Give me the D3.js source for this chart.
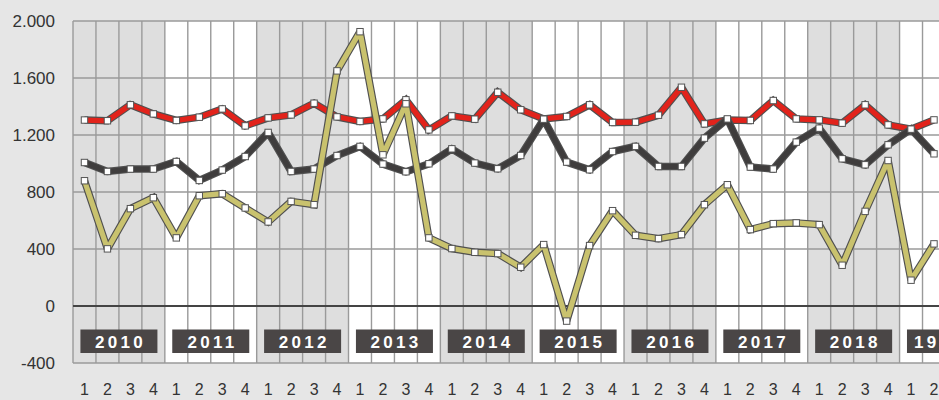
<!DOCTYPE html>
<html><head><meta charset="utf-8">
<script src="https://cdn.jsdelivr.net/npm/d3@7/dist/d3.min.js"></script>
<style>body{margin:0;background:#e6e6e6;}svg{display:block;}</style>
</head><body>
<svg id="c" width="939" height="400"></svg>
<script>
const years = ["2010","2011","2012","2013","2014","2015","2016","2017","2018","19"];
const quarters = ["1","2","3","4","1","2","3","4","1","2","3","4","1","2","3","4","1","2","3","4","1","2","3","4","1","2","3","4","1","2","3","4","1","2","3","4","1","2"];
const yTicks = [-400, 0, 400, 800, 1200, 1600, 2000];
const redSeries = [1305,1300,1412,1348,1302,1325,1383,1264,1320,1341,1423,1327,1295,1313,1447,1236,1334,1311,1500,1377,1313,1330,1412,1288,1290,1339,1535,1278,1305,1302,1442,1313,1306,1283,1412,1271,1241,1306];
const darkSeries = [1007,944,961,961,1014,881,954,1049,1218,944,961,1056,1120,996,942,998,1103,1003,963,1056,1311,1010,956,1084,1120,979,979,1178,1313,975,961,1150,1248,1033,991,1131,1241,1068];
const yellowSeries = [879,401,683,760,478,774,788,688,590,734,711,1650,1925,1061,1419,478,403,377,368,272,431,-106,424,669,496,473,501,711,851,536,578,583,571,286,664,1021,181,436];

const svg = d3.select("#c");
const W = 939, H = 400;
const colW = 22.96;
const x = d3.scaleLinear().domain([0, 38]).range([73, 73 + 38 * colW]);
const y = d3.scaleLinear().domain([-400, 2000]).range([363, 21]);

svg.append("rect").attr("width", W).attr("height", H).attr("fill", "#e6e6e6");

// year background bands
years.forEach((yr, i) => {
  svg.append("rect")
    .attr("x", x(i * 4)).attr("y", y(2000))
    .attr("width", x(4) - x(0)).attr("height", y(-400) - y(2000))
    .attr("fill", i % 2 === 0 ? "#dedede" : "#ffffff");
});

// vertical grid
const vg = svg.append("g").attr("stroke", "#9a9a9a").attr("stroke-width", 1.4);
d3.range(0, 39).forEach(i => {
  vg.append("line").attr("x1", x(i)).attr("x2", x(i)).attr("y1", y(2000)).attr("y2", y(-400));
});
// horizontal grid
yTicks.forEach(t => {
  svg.append("line").attr("x1", x(0)).attr("x2", W)
    .attr("y1", y(t)).attr("y2", y(t))
    .attr("stroke", t === 0 ? "#444" : "#9a9a9a")
    .attr("stroke-width", t === 0 ? 2 : 1.4);
});

// y labels
yTicks.forEach(t => {
  svg.append("text").attr("x", 55).attr("y", y(t)).attr("dy", "0.36em")
    .attr("text-anchor", "end")
    .attr("font-family", "Liberation Sans, Arial, sans-serif")
    .attr("font-size", 17).attr("fill", "#333")
    .text(d3.format(",")(t).replace(/,/g, ".").replace("\u2212", "-"));
});

// x labels (quarters)
quarters.forEach((q, i) => {
  svg.append("text").attr("x", x(i + 0.5)).attr("y", 395)
    .attr("text-anchor", "middle")
    .attr("font-family", "Liberation Sans, Arial, sans-serif")
    .attr("font-size", 16).attr("fill", "#333")
    .text(q);
});

// year boxes
years.forEach((yr, i) => {
  const cx = x(i * 4 + 2);
  const bw = 77;
  svg.append("rect").attr("x", cx - bw / 2).attr("y", 329.5)
    .attr("width", bw).attr("height", 23.5).attr("fill", "#4a4646");
  const t = svg.append("text")
    .attr("y", 348)
    .attr("font-family", "Liberation Sans, Arial, sans-serif")
    .attr("font-weight", "bold").attr("font-size", 17)
    .attr("letter-spacing", 3.3).attr("fill", "#fff")
    .text(yr);
  if (yr.length === 4) t.attr("x", cx + 1.7).attr("text-anchor", "middle");
  else t.attr("x", cx - bw / 2 + 7).attr("text-anchor", "start");
});

// series
const line = d3.line().x((d, i) => x(i + 0.5)).y(d => y(d));
function drawSeries(data, color) {
  const g = svg.append("g");
  g.append("path").attr("d", line(data)).attr("fill", "none")
    .attr("stroke", "#505050").attr("stroke-width", 7.5)
    .attr("stroke-linejoin", "miter").attr("stroke-miterlimit", 1.6);
  g.append("path").attr("d", line(data)).attr("fill", "none")
    .attr("stroke", color).attr("stroke-width", 5.2)
    .attr("stroke-linejoin", "miter").attr("stroke-miterlimit", 1.6);
  g.selectAll("rect.m").data(data).enter().append("rect")
    .attr("x", (d, i) => x(i + 0.5) - 3.2).attr("y", d => y(d) - 3.2)
    .attr("width", 6.4).attr("height", 6.4)
    .attr("fill", "#fff").attr("stroke", "#555").attr("stroke-width", 1);
}
drawSeries(redSeries, "#e2231b");
drawSeries(darkSeries, "#3f3d3d");
drawSeries(yellowSeries, "#c9c26e");
</script>
</body></html>
